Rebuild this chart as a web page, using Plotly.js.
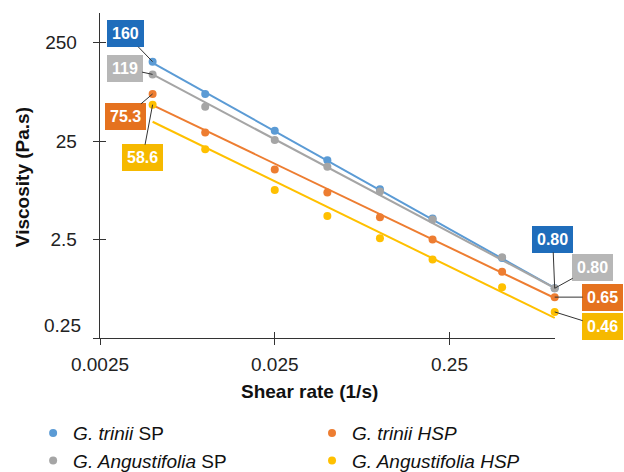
<!DOCTYPE html>
<html>
<head>
<meta charset="utf-8">
<script src="https://cdn.plot.ly/plotly-3.0.1.min.js"></script>
<style>html,body{margin:0;padding:0;background:#fff;}#chart{width:624px;height:472px;}</style>
</head>
<body>
<div id="chart"></div>
<script>
// Shear rate (1/s)
const shearRate = [0.005, 0.01, 0.025, 0.05, 0.1, 0.2, 0.5, 1.0];
// Viscosity (Pa.s)
const triniiSP = [160, 75, 31.8, 16.0, 8.1, 4.1, 1.62, 0.80];
const angustSP = [119, 55.7, 25.6, 13.7, 7.7, 4.0, 1.65, 0.80];
const triniiHSP = [75.3, 30.6, 12.9, 7.5, 4.2, 2.51, 1.18, 0.65];
const angustHSP = [58.6, 20.6, 7.96, 4.33, 2.57, 1.57, 0.82, 0.46];
// trendlines (at first and last shear rate)
const fitX = [0.005, 1.0];
const triniiSPFit = [156, 0.805];
const angustSPFit = [119, 0.805];
const triniiHSPFit = [58, 0.637];
const angustHSPFit = [39.3, 0.40];

const names = ['<i>G. trinii</i> SP', '<i>G. trinii HSP</i>', '<i>G. Angustifolia</i> SP', '<i>G. Angustifolia HSP</i>'];
const xTicks = [0.0025, 0.025, 0.25];
const xTickText = ['0.0025', '0.025', '0.25'];
const yTicks = [0.25, 2.5, 25, 250];
const yTickText = ['0.25', '2.5', '25', '250'];

const FONT = 'Liberation Sans, Arial, sans-serif';
const series = [
  {name: names[0], y: triniiSP, fit: triniiSPFit, color: '#5b9bd5', box: '#1f6dbb', legend: 'legend'},
  {name: names[1], y: triniiHSP, fit: triniiHSPFit, color: '#ed7d31', box: '#e5721f', legend: 'legend2'},
  {name: names[2], y: angustSP, fit: angustSPFit, color: '#a5a5a5', box: '#b7b7b7', legend: 'legend'},
  {name: names[3], y: angustHSP, fit: angustHSPFit, color: '#ffc000', box: '#f6b900', legend: 'legend2'}
];

const traces = [];
series.forEach(s => {
  traces.push({x: fitX, y: s.fit, mode: 'lines', line: {color: s.color, width: 2}, showlegend: false, hoverinfo: 'skip', cliponaxis: false});
});
series.forEach(s => {
  traces.push({x: shearRate, y: s.y, mode: 'markers', name: s.name, legend: s.legend, marker: {color: s.color, size: 8}, cliponaxis: false});
});
// invisible trace to activate overlay axes that draw the inner half of the crossing tick marks
traces.push({x: [shearRate[0]], y: [triniiSP[0]], xaxis: 'x2', yaxis: 'y2', mode: 'markers', marker: {opacity: 0}, showlegend: false, hoverinfo: 'skip'});

// label offsets (pixels) for first/last point labels: [trinii SP, trinii HSP, Ang SP, Ang HSP]
const firstOff = [[-27, -28], [-27, 23], [-28, -6], [-10, 53]];
const lastOff = [[-2, -49], [48, 0], [38, -21], [48, 15]];
const fmtFirst = v => v >= 100 ? v.toFixed(0) : v.toFixed(1);
const annotations = [];
series.forEach((s, i) => {
  const n = s.y.length - 1;
  [[0, firstOff[i], fmtFirst(s.y[0])], [n, lastOff[i], s.y[n].toFixed(2)]].forEach(([k, off, txt]) => {
    annotations.push({
      x: Math.log10(shearRate[k]), y: Math.log10(s.y[k]), xref: 'x', yref: 'y',
      text: '<b>' + txt + '</b>', showarrow: true, arrowhead: 0, arrowwidth: 1, arrowcolor: '#333',
      ax: off[0], ay: off[1], bgcolor: s.box, bordercolor: s.box, borderwidth: 1, borderpad: 4,
      font: {family: FONT, size: 16, color: '#ffffff'}
    });
  });
});
annotations.push({xref: 'paper', yref: 'paper', x: 0.4615, y: -0.166, xanchor: 'center', yanchor: 'middle', showarrow: false,
  text: '<b>Shear rate (1/s)</b>', font: {family: FONT, size: 19, color: '#111'}});
annotations.push({xref: 'paper', yref: 'paper', x: -0.1714, y: 0.495, xanchor: 'center', yanchor: 'middle', showarrow: false, textangle: -90,
  text: '<b>Viscosity (Pa.s)</b>', font: {family: FONT, size: 19, color: '#111'}});
// lowest y tick label sits a little above its tick in the reference
annotations.push({xref: 'paper', yref: 'paper', x: -0.037, y: 0.04, xanchor: 'right', yanchor: 'middle', showarrow: false,
  text: yTickText[0], font: {family: FONT, size: 19, color: '#222'}});

const xRange = [Math.log10(0.0025), Math.log10(1.004)];
const yRange = [Math.log10(0.25), Math.log10(500)];
const yTickShown = yTickText.map((t, i) => i === 0 ? ' ' : t);

const layout = {
  width: 624, height: 472,
  margin: {l: 100, r: 69, t: 13, b: 134, autoexpand: false},
  paper_bgcolor: '#fff', plot_bgcolor: '#fff',
  font: {family: FONT, size: 19, color: '#222'},
  xaxis: {type: 'log', range: xRange, tickvals: xTicks, ticktext: xTickText, ticks: 'outside', ticklen: 6, tickcolor: '#333',
    showline: true, linecolor: '#333', linewidth: 1.3, showgrid: false, zeroline: false, ticklabelstandoff: 3, automargin: false},
  yaxis: {type: 'log', range: yRange, tickvals: yTicks, ticktext: yTickShown, ticks: 'outside', ticklen: 6, tickcolor: '#333',
    showline: true, linecolor: '#333', linewidth: 1.3, showgrid: false, zeroline: false, ticklabelstandoff: 12, automargin: false},
  xaxis2: {type: 'log', range: xRange, overlaying: 'x', anchor: 'y2', side: 'bottom', tickvals: xTicks, ticks: 'inside', ticklen: 6, tickcolor: '#333',
    showticklabels: false, showline: false, showgrid: false, zeroline: false, automargin: false},
  yaxis2: {type: 'log', range: yRange, overlaying: 'y', anchor: 'x2', side: 'left', tickvals: yTicks, ticks: 'inside', ticklen: 6, tickcolor: '#333',
    showticklabels: false, showline: false, showgrid: false, zeroline: false, automargin: false},
  showlegend: true,
  legend: {orientation: 'v', x: -0.147, xanchor: 'left', y: -0.234, yanchor: 'top',
    font: {size: 19, color: '#111'}, itemclick: false, bgcolor: 'rgba(0,0,0,0)'},
  legend2: {orientation: 'v', x: 0.466, xanchor: 'left', y: -0.234, yanchor: 'top',
    font: {size: 19, color: '#111'}, itemclick: false, bgcolor: 'rgba(0,0,0,0)'},
  annotations: annotations
};

Plotly.newPlot('chart', traces, layout, {displayModeBar: false, staticPlot: true});
</script>
</body>
</html>
